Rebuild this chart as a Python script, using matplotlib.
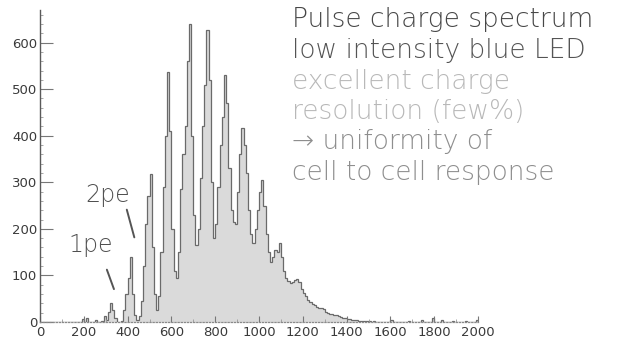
import numpy as np
import matplotlib
matplotlib.use("Agg")
import matplotlib.pyplot as plt

# ---- data: histogram of pulse charge (bin width 10, range 0-2000) ----
bin_width = 10
x_min, x_max = 0, 2000
counts = [
    # 0-90
    0, 0, 0, 0, 0, 0, 0, 0, 0, 0,
    # 100-190
    0, 0, 0, 0, 0, 0, 0, 0, 0, 6,
    # 200-290
    0, 8, 0, 0, 0, 5, 0, 0, 2, 12,
    # 300-390
    5, 22, 40, 25, 8, 0, 0, 3, 25, 60,
    # 400-490
    95, 140, 60, 15, 5, 12, 45, 120, 210, 270,
    # 500-590
    318, 160, 60, 26, 55, 150, 290, 400, 537, 410,
    # 600-690
    200, 110, 95, 150, 285, 360, 420, 560, 640, 400,
    # 700-790
    230, 165, 200, 310, 420, 510, 628, 520, 300, 180,
    # 800-890
    210, 290, 380, 440, 531, 470, 330, 240, 215, 210,
    # 900-990
    280, 360, 417, 380, 320, 240, 190, 170, 200, 240,
    # 1000-1090
    280, 305, 250, 190, 150, 129, 140, 155, 150, 170,
    # 1100-1190
    140, 110, 95, 88, 84, 86, 90, 92, 85, 70,
    # 1200-1290
    62, 55, 48, 42, 38, 36, 33, 30, 29, 27,
    # 1300-1390
    22, 20, 18, 17, 15, 14, 12, 10, 9, 8,
    # 1400-1490
    7, 6, 5, 4, 4, 3, 3, 2, 3, 2,
    # 1500-1590
    2, 1, 2, 1, 1, 1, 0, 1, 0, 0,
    # 1600-1690
    4, 0, 1, 0, 0, 0, 0, 0, 3, 0,
    # 1700-1790
    0, 0, 0, 0, 5, 0, 0, 0, 0, 9,
    # 1800-1890
    0, 0, 0, 4, 0, 0, 0, 0, 3, 0,
    # 1900-1990
    0, 0, 0, 0, 3, 0, 0, 0, 0, 4,
]
x_ticks = [0, 200, 400, 600, 800, 1000, 1200, 1400, 1600, 1800, 2000]
y_ticks = [0, 100, 200, 300, 400, 500, 600]
y_max = 670

text_lines = [
    "Pulse charge spectrum",
    "low intensity blue LED",
    "excellent charge",
    "resolution (few%)",
    "\u2192 uniformity of",
    "cell to cell response",
]
text_colors = ["#474747", "#545454", "#b8b8b8", "#b8b8b8", "#8e8e8e", "#8e8e8e"]

# ---- figure ----
W, H = 617, 347
fig = plt.figure(figsize=(W / 100, H / 100), dpi=100)
fig.patch.set_facecolor("white")
ax = fig.add_axes([40 / W, 25 / H, 438 / W, 312 / H])

edges = np.arange(x_min, x_max + bin_width, bin_width)
assert len(edges) == len(counts) + 1
ax.stairs(counts, edges, fill=True, color="#dadada", linewidth=0)
ax.stairs(counts, edges, fill=False, color="#6a6a6a", linewidth=0.9)

ax.set_xlim(x_min, x_max)
ax.set_ylim(0, y_max)
ax.set_facecolor("none")

for s in ["top", "right"]:
    ax.spines[s].set_visible(False)
ax.spines["left"].set_color("#5a5a5a")
ax.spines["left"].set_linewidth(1.0)
ax.spines["bottom"].set_color("#8a8a8a")
ax.spines["bottom"].set_linewidth(0.9)
ax.spines["bottom"].set_linestyle((0, (1, 1.5)))

tick_font = dict(family=["Liberation Sans Narrow", "DejaVu Sans"], size=9.5)
ax.set_xticks(x_ticks)
ax.set_xticklabels([str(v) for v in x_ticks], color="#3a3a3a", **tick_font)
ax.set_yticks(y_ticks)
ax.set_yticklabels([str(v) for v in y_ticks], color="#3a3a3a", **tick_font)
ax.set_yticks(np.arange(0, 661, 20), minor=True)
ax.set_xticks(np.arange(0, 2001, 100), minor=True)
ax.tick_params(axis="y", which="major", direction="in", length=9, width=0.8,
               color="#777777", pad=2)
ax.tick_params(axis="y", which="minor", direction="in", length=2.5, width=0.6,
               color="#999999")
ax.tick_params(axis="x", which="major", direction="in", length=4, width=0.8,
               color="#777777", pad=3)
ax.tick_params(axis="x", which="minor", direction="in", length=2, width=0.6,
               color="#999999")

# ---- annotations ----
label_font = ["DejaVu Sans"]
ax.text(205, 258, "2pe", fontsize=17, color="#505050", family=label_font,
        fontweight="ultralight", va="baseline", ha="left")
ax.text(128, 150, "1pe", fontsize=17, color="#505050", family=label_font,
        fontweight="ultralight", va="baseline", ha="left")
ax.annotate("", xy=(434, 176), xytext=(393, 247),
            arrowprops=dict(arrowstyle="-", color="#555555", lw=1.4))
ax.annotate("", xy=(342, 65), xytext=(301, 118),
            arrowprops=dict(arrowstyle="-", color="#555555", lw=1.4))

# ---- text block ----
baselines = [27, 58, 89, 119, 149, 180]
for line, col, b in zip(text_lines, text_colors, baselines):
    fig.text(292 / W, 1 - b / H, line, fontsize=19, color=col,
             family=label_font, fontweight="ultralight", va="baseline",
             ha="left")

fig.savefig("out.png", dpi=100, facecolor="white")
